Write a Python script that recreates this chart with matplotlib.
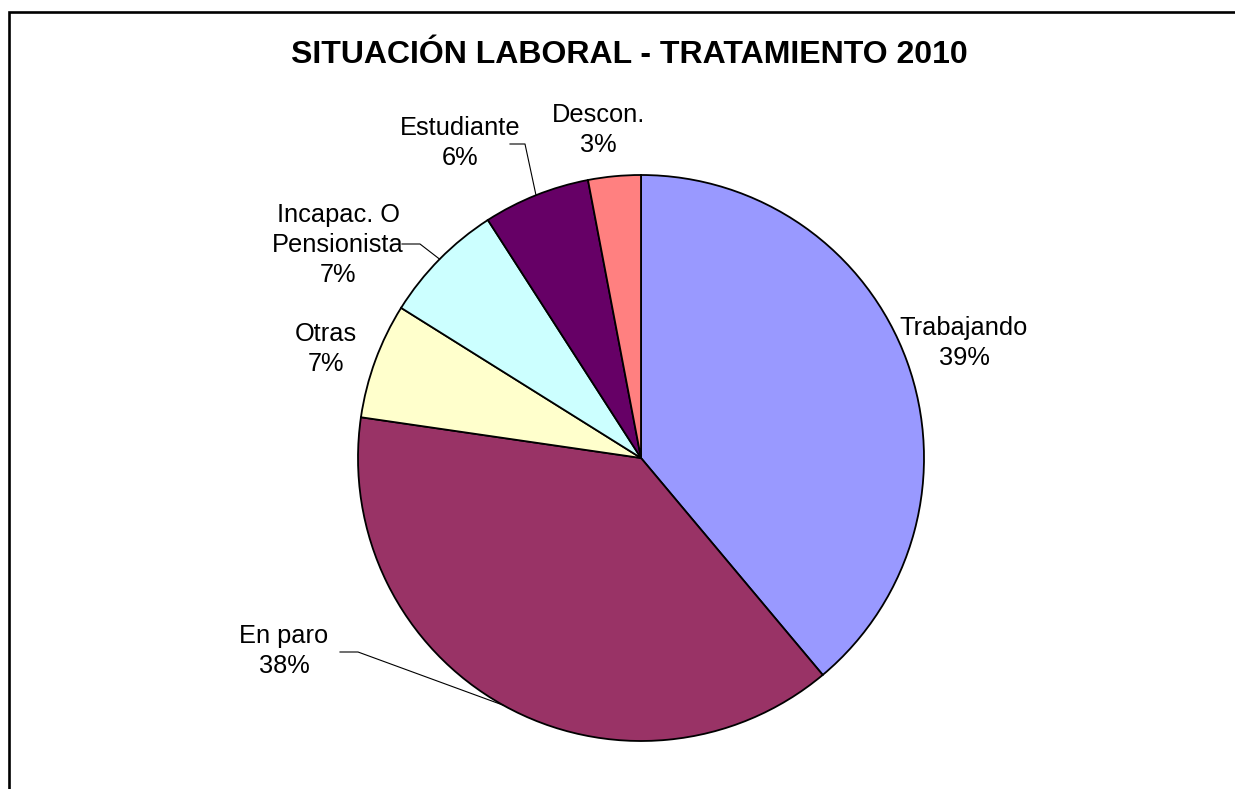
# Pie chart: situacion laboral - tratamiento 2010

import matplotlib
matplotlib.use("Agg")
import matplotlib.pyplot as plt
import numpy as np

plt.rcParams['font.family'] = ['Liberation Sans', 'DejaVu Sans']

# Data (percent of total)
categories = ["Trabajando", "En paro", "Otras", "Incapac. O\nPensionista", "Estudiante", "Descon."]
values = [38.9, 38.4, 6.6, 7.0, 6.1, 3.0]
colors = ["#9999FF", "#993366", "#FFFFCC", "#CCFFFF", "#660066", "#FF8080"]
title = "SITUACIÓN LABORAL - TRATAMIENTO 2010"

# Layout in pixels (origin top-left)
W, H = 1235, 789
center_px = (641, 458)
radius = 283
label_pos_px = {
    "Trabajando": (964, 343),
    "En paro": (284, 651),
    "Otras": (326, 349),
    "Incapac. O\nPensionista": (338, 245),
    "Estudiante": (460, 143),
    "Descon.": (598, 130),
}
# leader lines: (x start, x elbow, y) in pixels
leaders_px = {
    "En paro": (340, 358, 652),
    "Incapac. O\nPensionista": (402, 420, 244),
    "Estudiante": (510, 525, 144),
}

fig = plt.figure(figsize=(W / 100, H / 100), dpi=100)
ax = fig.add_axes([0, 0, 1, 1])

cx, cy = center_px[0], H - center_px[1]
wedges, _ = ax.pie(values, colors=colors, startangle=90, counterclock=False,
                   center=(cx, cy), radius=radius, frame=True,
                   wedgeprops=dict(edgecolor="black", linewidth=1.3))
ax.set_xlim(0, W)
ax.set_ylim(0, H)
ax.set_aspect("equal")
ax.axis("off")

for name, v, w in zip(categories, values, wedges):
    lx, ly = label_pos_px[name]
    ax.text(lx, H - ly, name + "\n" + "%.0f%%" % v, ha="center", va="center",
            multialignment="center", fontsize=18.3, linespacing=1.32)
    if name in leaders_px:
        x0, x1, y0 = leaders_px[name]
        mid = np.deg2rad((w.theta1 + w.theta2) / 2)
        ex = cx + radius * np.cos(mid)
        ey = cy + radius * np.sin(mid)
        ax.plot([x0, x1, ex], [H - y0, H - y0, ey], color="black", lw=0.8)

ax.text(629.5, H - 55, title, ha="center", va="center", fontsize=23, fontweight="bold")

# frame around the chart area (left and top edges visible)
ax.plot([9, 9, W + 5], [-5, H - 11.5, H - 11.5], color="black", lw=1.9,
        solid_joinstyle="miter", clip_on=False)

fig.savefig("out.png", dpi=100)
